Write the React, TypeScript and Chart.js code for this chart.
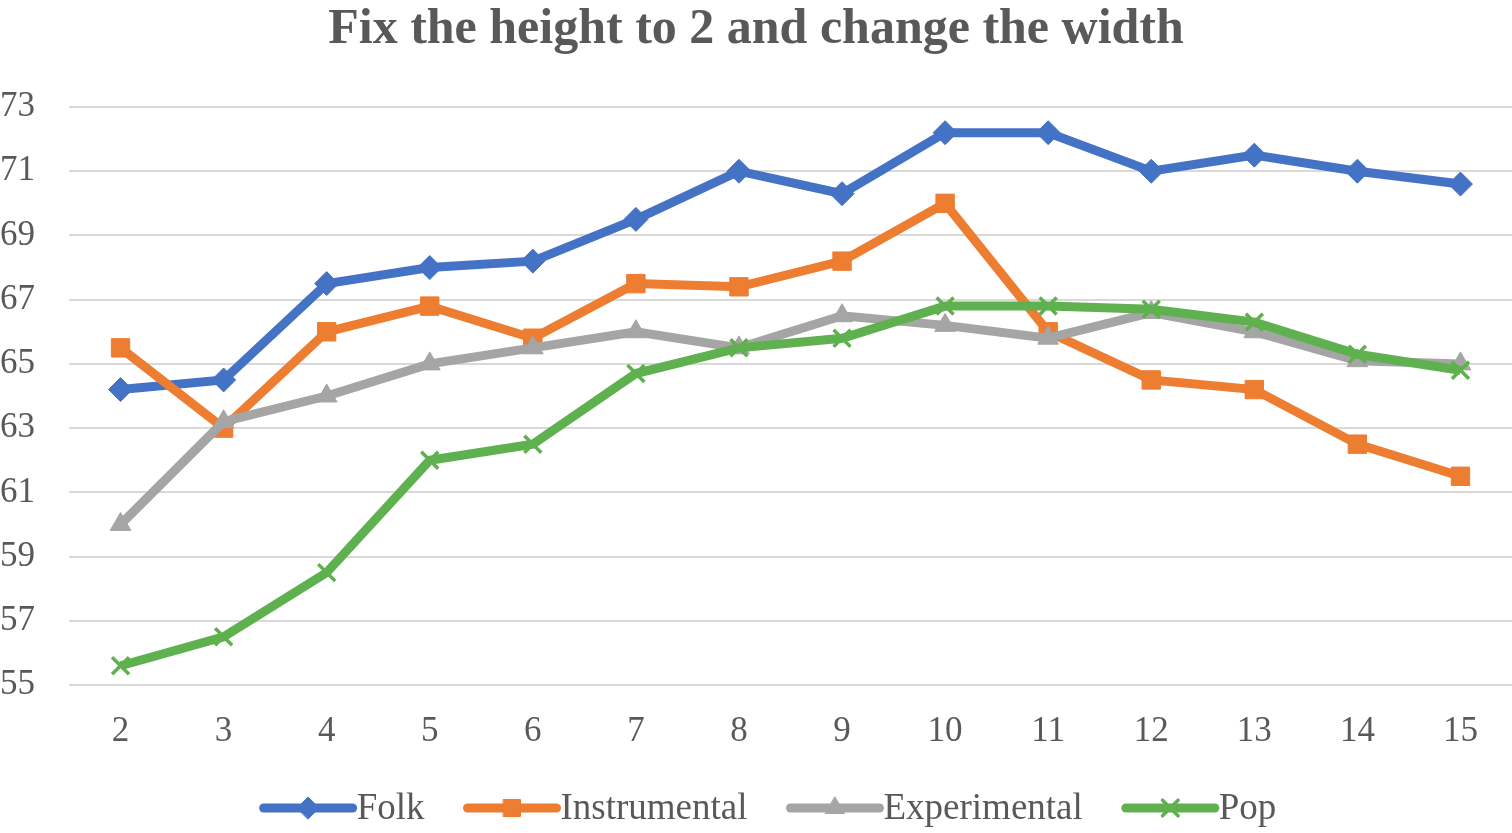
import React, { useEffect, useRef } from 'react';
import { Chart, registerables } from 'chart.js';
import { drawPoint } from 'chart.js/helpers';

Chart.register(...registerables);

const categories = ['2', '3', '4', '5', '6', '7', '8', '9', '10', '11', '12', '13', '14', '15'];
const folk = [64.2, 64.5, 67.5, 68.0, 68.2, 69.5, 71.0, 70.3, 72.2, 72.2, 71.0, 71.5, 71.0, 70.6];
const instrumental = [65.5, 63.0, 66.0, 66.8, 65.8, 67.5, 67.4, 68.2, 70.0, 66.0, 64.5, 64.2, 62.5, 61.5];
const experimental = [60.0, 63.2, 64.0, 65.0, 65.5, 66.0, 65.5, 66.5, 66.2, 65.8, 66.6, 66.0, 65.1, 65.0];
const pop = [55.6, 56.5, 58.5, 62.0, 62.5, 64.7, 65.5, 65.8, 66.8, 66.8, 66.7, 66.3, 65.3, 64.8];

const FONT = '"Liberation Serif", "Times New Roman", serif';
const TEXT = '#595959';

// legend with a line segment and the marker on it, like the office chart
const lineLegend = {
  id: 'lineLegend',
  afterDraw(chart: any) {
    const ctx = chart.ctx;
    const y = 808;
    const lineW = 89;
    const gap = 4;
    const spacing = 43;
    ctx.save();
    ctx.font = `37px ${FONT}`;
    const items = chart.data.datasets.map((ds: any) => ({
      ds,
      w: lineW + gap + ctx.measureText(ds.label).width,
    }));
    const total = items.reduce((s: number, it: any) => s + it.w, 0) + spacing * (items.length - 1);
    let x = 770 - total / 2;
    items.forEach(({ ds }: any, i: number) => {
      ctx.strokeStyle = ds.borderColor;
      ctx.lineWidth = 9;
      ctx.lineCap = 'round';
      ctx.beginPath();
      ctx.moveTo(x, y);
      ctx.lineTo(x + lineW, y);
      ctx.stroke();
      ctx.fillStyle = ds.borderColor;
      ctx.lineWidth = ds.pointBorderWidth ?? 1;
      drawPoint(
        ctx,
        {
          pointStyle: ds.pointStyle,
          radius: ds.pointRadius - 1,
          borderWidth: ds.pointBorderWidth ?? 1,
          rotation: 0,
        } as any,
        x + lineW / 2,
        y
      );
      ctx.fillStyle = TEXT;
      ctx.textBaseline = 'middle';
      ctx.textAlign = 'left';
      ctx.fillText(ds.label, x + lineW + gap, y + 1);
      x += items[i].w + spacing;
    });
    ctx.restore();
  },
};

const App: React.FC = () => {
  const chartRef = useRef<HTMLCanvasElement>(null);

  useEffect(() => {
    document.body.style.margin = '0';
    const ctx = chartRef.current?.getContext('2d');
    if (!ctx) return;

    const series = (label: string, data: number[], color: string, pointStyle: string, radius: number, order: number, extra: any = {}) => ({
      label,
      data,
      borderColor: color,
      backgroundColor: color,
      borderWidth: 9,
      pointStyle,
      pointRadius: radius,
      pointBorderColor: color,
      pointBackgroundColor: color,
      pointBorderWidth: 1,
      tension: 0,
      order,
      ...extra,
    });

    const chart = new Chart(ctx, {
      type: 'line',
      data: {
        labels: categories,
        datasets: [
          series('Folk', folk, '#4472C4', 'rectRot', 12, 4),
          series('Instrumental', instrumental, '#ED7D31', 'rect', 13, 3),
          series('Experimental', experimental, '#A5A5A5', 'triangle', 12, 2),
          series('Pop', pop, '#5FB14F', 'crossRot', 12, 1, { pointBorderWidth: 3.5 }),
        ],
      },
      options: {
        animation: false,
        responsive: true,
        maintainAspectRatio: false,
        layout: { autoPadding: false, padding: { left: 0, right: 0, top: 0, bottom: 88 } },
        plugins: {
          legend: { display: false },
          tooltip: { enabled: false },
          title: {
            display: true,
            text: 'Fix the height to 2 and change the width',
            color: TEXT,
            font: { family: FONT, size: 50, weight: 'bold' },
            padding: { top: 0, bottom: 47 },
          },
        },
        scales: {
          x: {
            offset: true,
            grid: { display: false },
            border: { display: false },
            ticks: { color: TEXT, font: { family: FONT, size: 35 }, padding: 18 },
            afterFit: (scale: any) => {
              scale.height = 60;
            },
          },
          y: {
            min: 55,
            max: 73,
            border: { display: false },
            grid: { color: '#D9D9D9', lineWidth: 2, drawTicks: false },
            ticks: { stepSize: 2, color: TEXT, font: { family: FONT, size: 35 }, padding: 34 },
            afterFit: (scale: any) => {
              scale.width = 69;
            },
          },
        },
      },
      plugins: [lineLegend],
    });

    return () => {
      chart.destroy();
    };
  }, []);

  return (
    <div style={{ position: 'absolute', left: 0, top: 0, width: 1512, height: 833, background: '#fff' }}>
      <canvas ref={chartRef}></canvas>
    </div>
  );
};

export default App;
